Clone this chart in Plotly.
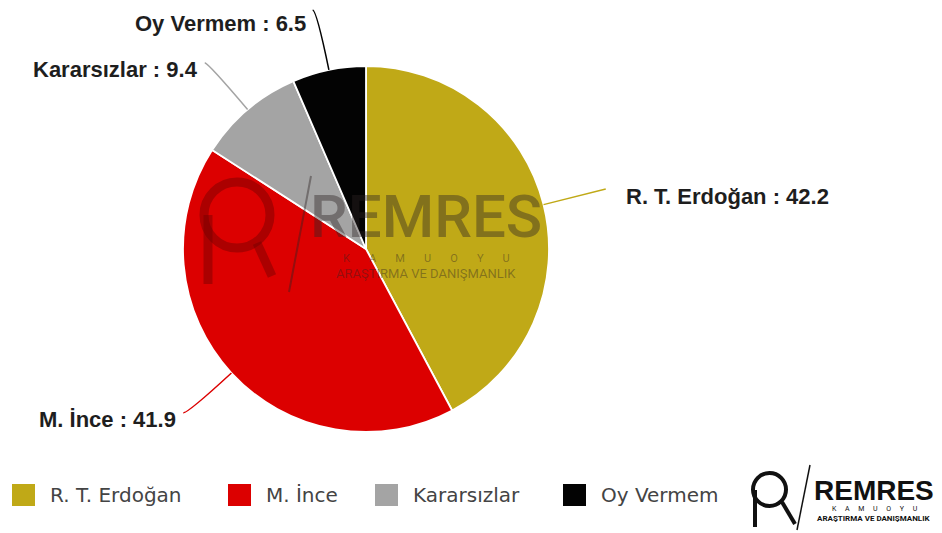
import math
import plotly.graph_objects as go

labels = ["R. T. Erdoğan", "M. İnce", "Kararsızlar", "Oy Vermem"]
values = [42.2, 41.9, 9.4, 6.5]
colors = ["#C0A917", "#DC0000", "#A4A4A4", "#030303"]

W, H = 942, 533
OFF = 8  # page body margin of the browser
CX, CY, R = 366, 249, 183


def px(x):
    return (x - OFF) / W


def py(y):
    return 1 - (y - OFF) / H


fig = go.Figure()
fig.add_trace(go.Pie(
    labels=labels, values=values, sort=False, direction="clockwise", rotation=0,
    marker=dict(colors=colors, line=dict(color="white", width=1.8)),
    textinfo="none", hoverinfo="label+value", showlegend=False,
    domain=dict(x=[px(CX - R), px(CX + R)], y=[py(CY + R), py(CY - R)]),
))

shapes = []
annotations = []

# labels with connectors computed from the data angles
total = sum(values)
cum = 0
for lab, val, col in zip(labels, values, colors):
    mid = (cum + val / 2) / total * 2 * math.pi
    cum += val
    dx, dy = math.sin(mid), -math.cos(mid)
    x0, y0 = CX + R * dx, CY + R * dy
    x1, y1 = CX + (R + 60) * dx, CY + (R + 60) * dy
    right = dx > 0
    x2 = x1 + (4 if right else -4)
    shapes.append(dict(
        type="path", xref="paper", yref="paper",
        path=f"M {px(x0)},{py(y0)} Q {px(x1)},{py(y1)} {px(x2)},{py(y1 - 1)}",
        line=dict(color=col, width=1.5),
    ))
    annotations.append(dict(
        x=px(x1 + 22 if right else x1 - 9), y=py(max(y1 + 6, 23)), xref="paper", yref="paper",
        text=f"{lab} : {val}", showarrow=False,
        xanchor="left" if right else "right", yanchor="middle",
        font=dict(family="Liberation Sans, Arial", size=22, color="#1e1e1e", weight="bold"),
    ))

# legend (drawn manually to match the big swatches and spacing)
legend_x = [12, 228, 375, 563]
LEG_Y = 495
for lab, col, lx in zip(labels, colors, legend_x):
    shapes.append(dict(type="rect", xref="paper", yref="paper",
                       x0=px(lx), x1=px(lx + 23), y0=py(LEG_Y + 11), y1=py(LEG_Y - 11),
                       fillcolor=col, line=dict(color=col, width=0)))
    annotations.append(dict(x=px(lx + 36), y=py(LEG_Y), xref="paper", yref="paper",
                            text=lab, showarrow=False, xanchor="left", yanchor="middle",
                            font=dict(family="DejaVu Sans", size=20, color="#444")))

# watermark in pie center
wm = "rgba(45,35,35,0.42)"
wr = "rgba(110,0,0,0.45)"
shapes += [
    dict(type="circle", xref="paper", yref="paper", x0=px(204), x1=px(270), y0=py(182), y1=py(248),
         line=dict(color=wr, width=9)),
    dict(type="line", xref="paper", yref="paper", x0=px(208), x1=px(208), y0=py(215), y1=py(284),
         line=dict(color=wr, width=9)),
    dict(type="line", xref="paper", yref="paper", x0=px(257), x1=px(272), y0=py(243), y1=py(276),
         line=dict(color=wr, width=9)),
    dict(type="line", xref="paper", yref="paper", x0=px(311), x1=px(289), y0=py(176), y1=py(292),
         line=dict(color=wm, width=2)),
]
annotations += [
    dict(x=px(426), y=py(216), xref="paper", yref="paper", text="REMRES", showarrow=False,
         xanchor="center", yanchor="middle",
         font=dict(family="Roboto, Arial", size=60, color=wm, weight=500)),
    dict(x=px(426), y=py(258), xref="paper", yref="paper",
         text="K       A       M       U       O       Y       U",
         showarrow=False, xanchor="center", yanchor="middle",
         font=dict(family="Roboto, Arial", size=11, color=wm)),
    dict(x=px(426), y=py(273), xref="paper", yref="paper", text="ARAŞTIRMA VE DANIŞMANLIK",
         showarrow=False, xanchor="center", yanchor="middle",
         font=dict(family="Roboto, Arial", size=13, color=wm)),
]

# bottom-right logo
lg = "#111111"
shapes += [
    dict(type="circle", xref="paper", yref="paper", x0=px(753), x1=px(786), y0=py(473), y1=py(506),
         line=dict(color=lg, width=4)),
    dict(type="line", xref="paper", yref="paper", x0=px(755), x1=px(755), y0=py(490), y1=py(527),
         line=dict(color=lg, width=4)),
    dict(type="line", xref="paper", yref="paper", x0=px(782), x1=px(795), y0=py(502), y1=py(524),
         line=dict(color=lg, width=4)),
    dict(type="line", xref="paper", yref="paper", x0=px(810), x1=px(797), y0=py(465), y1=py(530),
         line=dict(color=lg, width=1.5)),
]
annotations += [
    dict(x=px(874), y=py(490), xref="paper", yref="paper", text="<b>REMRES</b>", showarrow=False,
         xanchor="center", yanchor="middle",
         font=dict(family="Liberation Sans, Arial", size=28, color=lg)),
    dict(x=px(875), y=py(509), xref="paper", yref="paper", text="K     A     M     U     O     Y     U",
         showarrow=False, xanchor="center", yanchor="middle",
         font=dict(family="Roboto, Arial", size=7, color=lg)),
    dict(x=px(874), y=py(519), xref="paper", yref="paper", text="<b>ARAŞTIRMA VE DANIŞMANLIK</b>",
         showarrow=False, xanchor="center", yanchor="middle",
         font=dict(family="Roboto, Arial", size=8, color=lg)),
]

fig.update_layout(
    width=W, height=H,
    margin=dict(l=0, r=0, t=0, b=0),
    paper_bgcolor="white", plot_bgcolor="white",
    showlegend=False,
    shapes=shapes, annotations=annotations,
)

fig.write_html("out.html")
